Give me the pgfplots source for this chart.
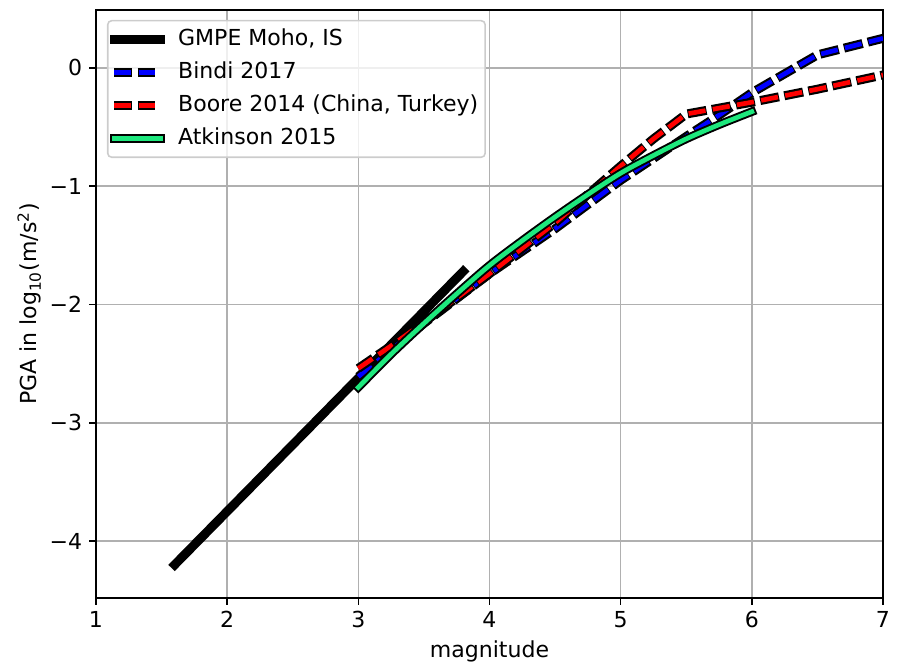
\documentclass[border=0pt]{standalone}
\usepackage{pgfplots}
\pgfplotsset{compat=1.18}
\usepackage{fontspec}
\setmainfont{DejaVu Sans}
\definecolor{sgreen}{RGB}{30,232,125}
\definecolor{gridgray}{RGB}{176,176,176}
\definecolor{legedge}{RGB}{204,204,204}
\begin{document}
\begin{tikzpicture}
\begin{axis}[
  scale only axis, width=403.6pt, height=301.5pt,
  xmin=1, xmax=7, ymin=-4.48, ymax=0.49,
  xtick={1,2,3,4,5,6,7}, xticklabels={1,2,3,4,5,6,7},
  ytick={-4,-3,-2,-1,0}, yticklabels={−4,−3,−2,−1,0},
  xtick pos=bottom, ytick pos=left,
  grid=major, major grid style={gridgray, line width=0.8pt},
  axis line style={line width=0.8pt},
  tick align=outside, major tick length=3.5pt,
  tick style={black, line width=0.8pt},
  tick label style={font=\fontsize{11.3}{13.5}\selectfont},
  label style={font=\fontsize{11.3}{13.5}\selectfont},
  xlabel={magnitude},
  ylabel={PGA in log\textsubscript{10}(m/s\textsuperscript{2})},
  xlabel style={at={(axis description cs:0.5,-0.1022)}, anchor=base},
  ylabel style={at={(axis description cs:-0.0753,0.5)}, anchor=base},
  legend cell align=left,
  legend style={at={(axis description cs:0.014,0.983)}, anchor=north west,
    draw=legedge, line width=0.8pt, rounded corners=2pt, fill=white, fill opacity=0.8, text opacity=1,
    font=\fontsize{11.3}{13.5}\selectfont, inner sep=1pt, row sep=0pt,
    nodes={text height=9pt, text depth=3pt, inner sep=2.5pt},
    /tikz/every odd column/.append style={column sep=4pt}},
]
% GMPE Moho, IS
\addplot[black, line width=4.6pt, line cap=rect,
  legend image code/.code={\draw[black, line width=4.6pt, line cap=rect] (0pt,0pt) -- (24pt,0pt);}]
  coordinates {(1.6,-4.20) (3.8,-1.72)};
\addlegendentry{GMPE Moho, IS}
% Bindi 2017
\addplot[black, line width=4.6pt, dash pattern=on 9.8pt off 2.8pt, dash phase=0.5pt, forget plot]
  coordinates {(3,-2.61) (3.5,-2.16) (4,-1.74) (4.5,-1.36) (5,-0.95) (5.5,-0.58) (5.75,-0.40) (6,-0.21) (6.25,-0.05) (6.5,0.11) (6.75,0.18) (7,0.25)};
\addplot[blue, line width=2.4pt, dash pattern=on 8.8pt off 3.8pt,
  legend image code/.code={
    \draw[black, line width=4.6pt, dash pattern=on 9.8pt off 2.8pt, dash phase=0.5pt] (0pt,0pt) -- (21pt,0pt);
    \draw[blue, line width=2.4pt, dash pattern=on 8.8pt off 3.8pt] (0pt,0pt) -- (21pt,0pt);}]
  coordinates {(3,-2.61) (3.5,-2.16) (4,-1.74) (4.5,-1.36) (5,-0.95) (5.5,-0.58) (5.75,-0.40) (6,-0.21) (6.25,-0.05) (6.5,0.11) (6.75,0.18) (7,0.25)};
\addlegendentry{Bindi 2017}
% Boore 2014
\addplot[black, line width=4.6pt, dash pattern=on 9.8pt off 2.8pt, dash phase=0.5pt, forget plot]
  coordinates {(3,-2.54) (3.25,-2.35) (3.5,-2.15) (4,-1.74) (4.5,-1.31) (5,-0.83) (5.25,-0.60) (5.5,-0.39) (6,-0.29) (6.5,-0.18) (7,-0.06)};
\addplot[red, line width=2.4pt, dash pattern=on 8.8pt off 3.8pt,
  legend image code/.code={
    \draw[black, line width=4.6pt, dash pattern=on 9.8pt off 2.8pt, dash phase=0.5pt] (0pt,0pt) -- (21pt,0pt);
    \draw[red, line width=2.4pt, dash pattern=on 8.8pt off 3.8pt] (0pt,0pt) -- (21pt,0pt);}]
  coordinates {(3,-2.54) (3.25,-2.35) (3.5,-2.15) (4,-1.74) (4.5,-1.31) (5,-0.83) (5.25,-0.60) (5.5,-0.39) (6,-0.29) (6.5,-0.18) (7,-0.06)};
\addlegendentry{Boore 2014 (China, Turkey)}
% Atkinson 2015
\addplot[black, line width=4.4pt, line cap=rect, smooth, forget plot]
  coordinates {(3,-2.70) (3.25,-2.42) (3.5,-2.16) (3.75,-1.91) (4,-1.67) (4.25,-1.46) (4.5,-1.26) (4.75,-1.07) (5,-0.89) (5.25,-0.74) (5.5,-0.60) (5.75,-0.48) (6,-0.37)};
\addplot[sgreen, line width=2.4pt, line cap=rect, smooth,
  legend image code/.code={
    \draw[black, line width=4.4pt, line cap=rect] (0pt,0pt) -- (24pt,0pt);
    \draw[sgreen, line width=2.4pt, line cap=rect] (0pt,0pt) -- (24pt,0pt);}]
  coordinates {(3,-2.70) (3.25,-2.42) (3.5,-2.16) (3.75,-1.91) (4,-1.67) (4.25,-1.46) (4.5,-1.26) (4.75,-1.07) (5,-0.89) (5.25,-0.74) (5.5,-0.60) (5.75,-0.48) (6,-0.37)};
\addlegendentry{Atkinson 2015}
\end{axis}
\pgfresetboundingbox
\path ([shift={(-49.2pt,-33.8pt)}]current axis.south west) rectangle ([shift={(7.7pt,5.1pt)}]current axis.north east);
\end{tikzpicture}
\end{document}
